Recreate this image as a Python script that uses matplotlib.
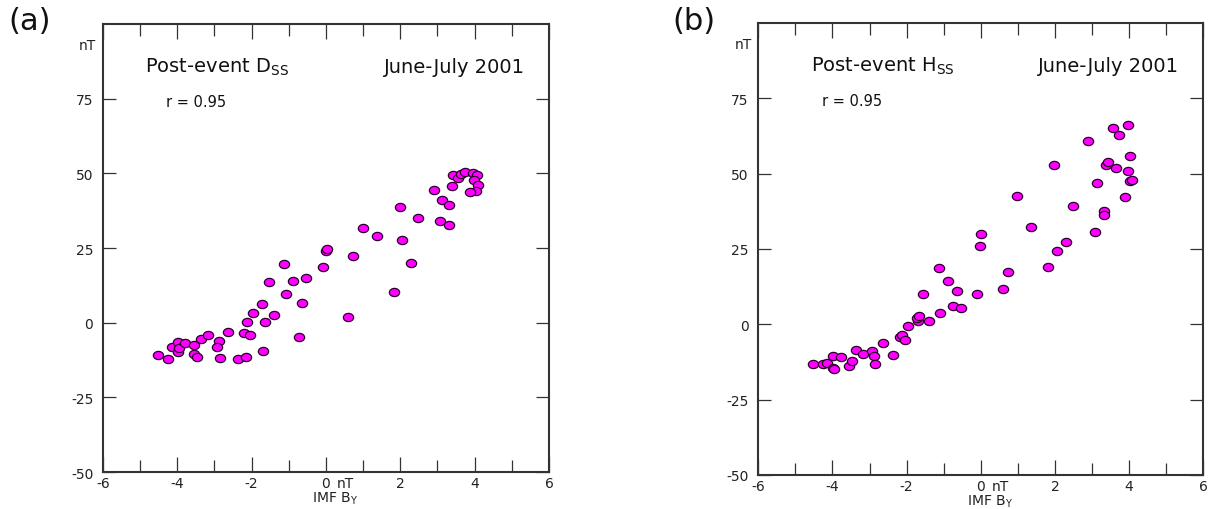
import matplotlib
matplotlib.use("Agg")
import matplotlib.pyplot as plt
import numpy as np
from matplotlib.path import Path

plt.rcParams['axes.unicode_minus'] = False
plt.rcParams['font.family'] = ['DejaVu Sans']

# ---- data ----
imf_by_a = [-4.52, -4.24, -4.14, -3.98, -3.98, -3.95, -3.78, -3.54, -3.54, -3.48,
            -3.37, -3.18, -2.88, -2.93, -2.86, -2.64, -2.37, -2.14, -2.20, -2.04,
            -2.12, -1.97, -1.73, -1.65, -1.69, -1.40, -1.53, -1.12, -1.08, -0.88,
            -0.64, -0.73, -0.53, -0.09, -0.01, 0.02, 0.58, 0.74, 0.99, 1.36,
            1.82, 1.98, 2.05, 2.29, 2.48, 2.90, 3.08, 3.12, 3.31, 3.31,
            3.38, 3.43, 3.55, 3.64, 3.75, 3.96, 4.05, 3.98, 4.08, 4.03, 3.88]
dss = [-10.7, -12.1, -8.3, -6.3, -9.7, -8.5, -6.8, -7.6, -10.4, -11.5,
       -5.6, -4.0, -6.0, -8.3, -11.7, -3.0, -12.1, -11.6, -3.5, -4.2,
       0.4, 3.4, 6.1, 0.1, -9.4, 2.6, 13.7, 19.5, 9.6, 14.1,
       6.5, -4.9, 14.9, 18.8, 23.9, 24.6, 2.0, 22.2, 31.7, 29.0,
       10.3, 38.8, 27.6, 19.9, 35.2, 44.5, 34.0, 41.1, 39.3, 32.7,
       45.7, 49.5, 48.3, 49.7, 50.6, 50.2, 49.5, 47.9, 46.0, 44.2, 43.7]

imf_by_b = [-4.52, -4.25, -4.14, -3.98, -3.98, -3.96, -3.78, -3.55, -3.47, -3.37,
            -3.18, -2.93, -2.88, -2.86, -2.64, -2.38, -2.18, -2.12, -2.05, -1.97,
            -1.70, -1.73, -1.66, -1.40, -1.55, -1.13, -1.09, -0.875, -0.74, -0.63,
            -0.53, -0.09, -0.02, 0.00, 0.59, 0.73, 0.98, 1.36, 1.82, 1.98,
            2.05, 2.29, 2.48, 2.90, 3.09, 3.13, 3.32, 3.32, 3.38, 3.43,
            3.56, 3.64, 3.73, 3.96, 4.03, 3.97, 3.88, 4.02, 4.09]
hss = [-13.1, -13.1, -12.7, -10.4, -14.5, -14.8, -11.0, -13.9, -12.3, -8.5,
       -9.7, -9.0, -10.5, -13.1, -6.3, -10.1, -4.3, -3.4, -5.1, -0.7,
       1.0, 2.1, 2.8, 1.0, 10.0, 18.6, 3.8, 14.4, 6.0, 11.2,
       5.4, 10.0, 25.9, 30.0, 11.8, 17.2, 42.5, 32.3, 18.9, 52.8,
       24.4, 27.2, 39.2, 60.7, 30.6, 46.8, 37.5, 36.3, 52.8, 53.9,
       65.3, 52.0, 62.8, 66.2, 55.8, 50.9, 42.4, 47.4, 47.8]

x_ticks = [-6, -4, -2, 0, 2, 4, 6]
x_ticklabels = ['-6', '-4', '-2', '0', '2', '4', '6']
x_minor = [-5, -3, -1, 1, 3, 5]
y_ticks = [-50, -25, 0, 25, 50, 75]
y_ticklabels = ['-50', '-25', '0', '25', '50', '75']

panels = [
    dict(x=imf_by_a, y=dss, tag='(a)', title=r'Post-event D$_{\mathregular{SS}}$',
         pos=[0.0849, 0.0725, 0.3677, 0.8784], tx=0.094, rx=0.141, tagx=8,
         laby=-0.040),
    dict(x=imf_by_b, y=hss, tag='(b)', title=r'Post-event H$_{\mathregular{SS}}$',
         pos=[0.6251, 0.0667, 0.3669, 0.8863], tx=0.118, rx=0.143, tagx=672,
         laby=-0.040),
]

# elliptical marker (wider than tall)
circ = Path.unit_circle()
ell = Path(circ.vertices * np.array([1.25, 1.0]), circ.codes)

W, H = 1213, 510
fig = plt.figure(figsize=(W / 100, H / 100), dpi=100)
spine_col = '#333333'

for p in panels:
    ax = fig.add_axes(p['pos'])
    ax.plot(p['x'], p['y'], linestyle='none', marker=ell, markersize=7.4,
            markerfacecolor='#ff00ff', markeredgecolor='#2a002a', markeredgewidth=0.9)
    ax.set_xlim(-6, 6)
    ax.set_ylim(-50, 100)
    ax.set_xticks(x_ticks)
    ax.set_xticklabels(x_ticklabels)
    ax.set_xticks(x_minor, minor=True)
    ax.set_yticks(y_ticks)
    ax.set_yticklabels(y_ticklabels)
    for s in ax.spines.values():
        s.set_linewidth(1.5)
        s.set_color(spine_col)
    ax.tick_params(axis='x', which='major', direction='in', top=True, bottom=True,
                   length=10.8, width=0.9, color=spine_col, labelsize=10, pad=3,
                   labelcolor='#222222')
    ax.tick_params(axis='x', which='minor', direction='in', top=True, bottom=True,
                   length=8.6, width=0.9, color=spine_col)
    ax.tick_params(axis='y', which='major', direction='in', left=True, right=True,
                   length=9.4, width=0.9, color=spine_col, labelsize=10, pad=7,
                   labelcolor='#222222')

    ax.text(p['tx'], 0.906, p['title'], transform=ax.transAxes, fontsize=14,
            ha='left', va='center', color='#111111')
    ax.text(0.946, 0.906, 'June-July 2001', transform=ax.transAxes, fontsize=14,
            ha='right', va='center', color='#111111')
    ax.text(p['rx'], 0.828, 'r = 0.95', transform=ax.transAxes, fontsize=10.5,
            ha='left', va='center', color='#111111')
    ax.text(-0.034, 0.953, 'nT', transform=ax.transAxes, fontsize=10,
            ha='center', va='center', color='#222222')
    ax.text(0.525, -0.008, 'nT', transform=ax.transAxes, fontsize=10,
            ha='left', va='top', color='#222222')
    ax.text(0.52, p['laby'], r'IMF B$_{\mathregular{Y}}$', transform=ax.transAxes,
            fontsize=10, ha='center', va='top', color='#222222')
    fig.text(p['tagx'] / W, 1 - 22 / H, p['tag'], fontsize=22, ha='left',
             va='center', color='#111111')

fig.savefig('out.png', dpi=100)
